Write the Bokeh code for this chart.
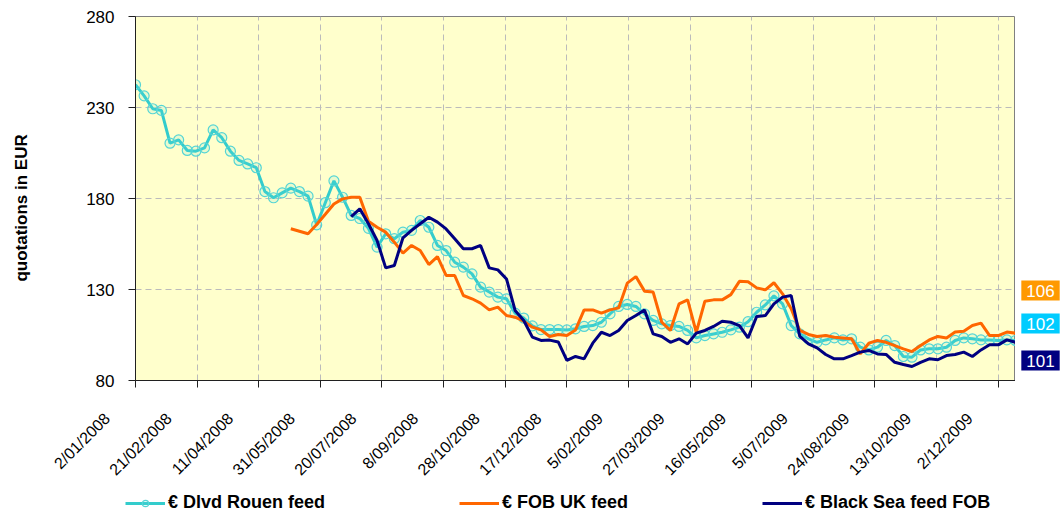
import math
import numpy as np
import pandas as pd
from bokeh.plotting import figure
from bokeh.layouts import row, column
from bokeh.models import Range1d, FixedTicker, Legend, LegendItem, Label, ColumnDataSource
from bokeh.embed import file_html
from bokeh.resources import INLINE

# ---------------- data ----------------
start_date = "2008-01-02"   # weekly quotations
tick_labels = ["2/01/2008", "21/02/2008", "11/04/2008", "31/05/2008", "20/07/2008",
               "8/09/2008", "28/10/2008", "17/12/2008", "5/02/2009", "27/03/2009",
               "16/05/2009", "5/07/2009", "24/08/2009", "13/10/2009", "2/12/2009"]
y_ticks = [80, 130, 180, 230, 280]

series_names = ["€ Dlvd Rouen feed", "€ FOB UK feed", "€ Black Sea feed FOB"]

rouen = [242.5, 236.4, 229.3, 228.4, 210.4, 212.2, 206.4, 206.0, 207.8, 217.7,
         213.4, 206.0, 200.9, 199.0, 196.9, 183.8, 180.4, 183.1, 185.7, 183.8,
         181.3, 165.5, 177.7, 189.7, 180.7, 170.7, 169.0, 163.6, 153.3, 160.6,
         157.9, 161.5, 162.5, 167.9, 164.2, 154.2, 151.4, 145.0, 142.3, 138.6,
         131.3, 128.6, 125.8, 124.9, 117.0, 114.3, 110.0, 108.0, 108.0, 108.0,
         107.8, 108.4, 109.7, 110.2, 112.0, 116.6, 120.7, 121.8, 120.7, 116.6,
         113.0, 111.1, 110.2, 109.7, 107.5, 103.4, 104.7, 105.6, 106.5, 107.8,
         109.3, 112.3, 117.5, 121.5, 126.5, 122.1, 110.2, 105.6, 102.9, 101.0,
         102.3, 103.4, 102.3, 102.9, 98.3, 96.8, 98.3, 102.0, 99.2, 93.2,
         92.8, 96.8, 97.4, 97.4, 98.3, 102.0, 103.4, 102.9, 102.3, 102.3,
         102.0, 102.3, 102.0]

uk = [None] * 18 + [
         163.4, 162.0,
         160.6, 165.7, 171.3, 177.0, 179.8, 180.7, 180.7, 167.5, 164.2, 161.5,
         156.0, 150.0, 154.2, 151.4, 143.7, 148.1, 137.7, 137.7, 126.7, 124.9,
         122.5, 118.8, 120.3, 115.7, 114.8, 112.6, 109.3, 107.8, 104.2, 105.3,
         104.7, 107.8, 118.8, 118.8, 117.0, 118.8, 119.9, 133.5, 137.1, 129.1,
         128.6, 112.0, 107.5, 122.1, 124.3, 106.5, 123.6, 124.3, 124.3, 127.2,
         134.5, 134.3, 130.9, 129.8, 133.7, 127.6, 119.4, 107.5, 105.3, 104.2,
         104.7, 103.8, 103.4, 102.9, 94.6, 100.5, 102.0, 101.0, 99.2, 97.4,
         95.9, 99.2, 102.3, 104.2, 103.4, 106.6, 107.1, 110.2, 111.5, 104.7,
         104.7, 106.6, 106.0]

black_sea = [None] * 25 + [
         170.1, 174.3, 166.1, 156.9, 141.9,
         143.2, 158.4, 162.5, 166.1, 169.7, 167.0, 163.3, 157.9, 152.4, 152.4,
         154.2, 141.9, 140.8, 135.8, 118.5, 113.0, 103.8, 102.0, 102.2, 101.2,
         91.0, 93.2, 91.9, 100.5, 106.5, 104.7, 107.5, 113.0, 115.7, 118.8,
         105.6, 104.2, 101.0, 102.9, 100.1, 106.0, 107.5, 109.7, 112.6, 112.0,
         110.2, 103.4, 115.2, 115.7, 122.1, 125.8, 126.7, 104.2, 100.1, 97.9,
         94.3, 91.9, 91.9, 93.7, 95.6, 96.5, 94.6, 94.3, 90.0, 88.8,
         87.7, 90.0, 91.9, 91.4, 93.7, 94.3, 95.6, 93.2, 96.8, 99.6,
         99.6, 102.3, 101.0]

colors = ["#33CCCC", "#FF6600", "#000080"]
box_colors = ["#FF9900", "#00CCFF", "#000080"]

# ---------------- build ----------------
def arr(v):
    return np.array([np.nan if x is None else x for x in v], dtype=float)

dates = pd.date_range(start_date, periods=len(rouen), freq="7D")
src = ColumnDataSource(dict(date=dates, rouen=arr(rouen), uk=arr(uk), bs=arr(black_sea)))

tick_dates = pd.to_datetime(tick_labels, format="%d/%m/%Y")
tick_ms = [float(t.value // 10**6) for t in tick_dates]

FONT = "Liberation Sans"
NB = "\u00a0"
MAIN_H = 488


def draw_series(fig):
    a = fig.line("date", "rouen", source=src, line_color=colors[0], line_width=3)
    b = fig.scatter("date", "rouen", source=src, marker="circle", size=10,
                    line_color="#55D5D5", fill_color="#66DDDD", fill_alpha=0.15, line_width=1.2)
    c = fig.line("date", "uk", source=src, line_color=colors[1], line_width=3)
    d = fig.line("date", "bs", source=src, line_color=colors[2], line_width=3)
    return a, b, c, d


# ---- main chart ----
p = figure(width=1015, height=MAIN_H, x_axis_type="datetime",
           output_backend="svg", toolbar_location=None,
           x_range=Range1d(dates[0], dates[-1]), y_range=Range1d(y_ticks[0], y_ticks[-1]),
           min_border_left=135, min_border_right=0, min_border_top=16,
           min_border_bottom=MAIN_H - 380)

p.background_fill_color = "#FFFFCC"
p.border_fill_color = "white"
p.outline_line_color = "#808080"
p.outline_line_width = 1

p.xaxis.ticker = FixedTicker(ticks=tick_ms)
p.xaxis.major_label_overrides = {t: l + NB * 9 for t, l in zip(tick_ms, tick_labels)}
p.xaxis.major_label_orientation = math.pi / 4
p.yaxis.ticker = FixedTicker(ticks=y_ticks)
for ax in (p.xaxis, p.yaxis):
    ax.axis_line_color = "#202020"
    ax.axis_line_width = 1
    ax.major_tick_line_color = "#202020"
    ax.major_tick_out = 7
    ax.major_tick_in = 0
    ax.minor_tick_line_color = None
    ax.major_label_text_font = FONT
    ax.major_label_text_color = "black"
p.yaxis.major_label_text_font_size = "17px"
p.xaxis.major_label_text_font_size = "16px"
p.yaxis.major_label_standoff = 14
p.xaxis.major_label_standoff = 0
p.yaxis.axis_label = "quotations in EUR" + NB * 4
p.yaxis.axis_label_text_font = FONT
p.yaxis.axis_label_text_font_style = "bold"
p.yaxis.axis_label_text_font_size = "17px"
p.yaxis.axis_label_text_color = "black"
p.yaxis.axis_label_standoff = 52

for g in (p.xgrid, p.ygrid):
    g.grid_line_color = "#BBBBBB"
    g.grid_line_dash = "6 4"
    g.grid_line_width = 1

draw_series(p)

# ---- last-value boxes on the right ----
p2 = figure(width=46, height=MAIN_H, output_backend="svg", toolbar_location=None,
            x_axis_type=None, y_axis_type=None,
            x_range=Range1d(0, 1), y_range=Range1d(y_ticks[0], y_ticks[-1]),
            min_border_left=0, min_border_right=0, min_border_top=16,
            min_border_bottom=MAIN_H - 380)
p2.outline_line_color = None
p2.background_fill_color = "white"
p2.border_fill_color = "white"
p2.grid.visible = False

last_vals = [rouen[-1], uk[-1], black_sea[-1]]
box_order = [1, 0, 2]          # orange on top, cyan, navy
box_y = [90, 57, 20]
for k, idx in enumerate(box_order):
    p2.add_layout(Label(x=25, y=box_y[k], x_units="screen", y_units="screen",
                        text=f"{round(last_vals[idx])}", text_align="center",
                        text_baseline="middle", text_color="white",
                        text_font=FONT, text_font_size="17px",
                        background_fill_color=box_colors[k],
                        padding=dict(left=5, right=5, top=4, bottom=4)))

# ---- legend strip underneath ----
p3 = figure(width=1061, height=515 - MAIN_H, output_backend="svg", toolbar_location=None,
            x_axis_type=None, y_axis_type=None,
            x_range=Range1d(dates[0], dates[-1]), y_range=Range1d(0, 1),
            min_border_left=0, min_border_right=0, min_border_top=0, min_border_bottom=0)
p3.outline_line_color = None
p3.background_fill_color = "white"
p3.border_fill_color = "white"
p3.grid.visible = False
la, lb, lc, ld = draw_series(p3)   # out of view: only used by the legend

legend = Legend(items=[LegendItem(label=series_names[0], renderers=[la, lb]),
                       LegendItem(label=series_names[1], renderers=[lc]),
                       LegendItem(label=series_names[2], renderers=[ld])],
                orientation="horizontal", location=(125, 2),
                glyph_width=40, glyph_height=16, label_standoff=3, spacing=134,
                padding=0, margin=0,
                label_text_font=FONT, label_text_font_style="bold",
                label_text_font_size="18px", label_text_color="black",
                border_line_alpha=0, background_fill_alpha=0)
p3.add_layout(legend)

layout = column(row(p, p2), p3)
open("out.html", "w").write(file_html(layout, INLINE))
